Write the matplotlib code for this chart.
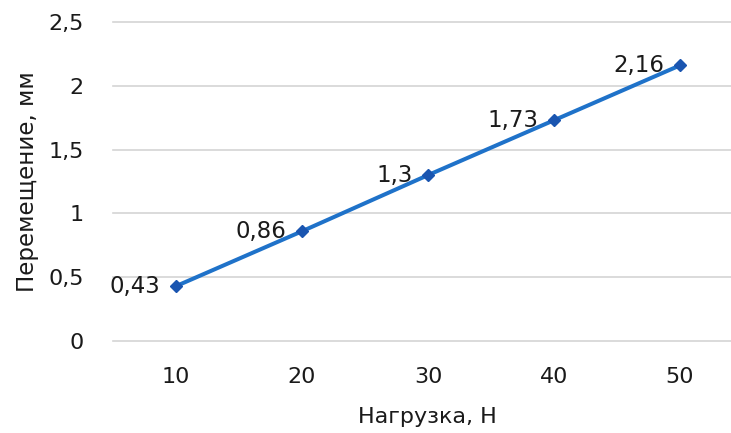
import matplotlib
matplotlib.use("Agg")
import matplotlib.pyplot as plt

categories = ["10", "20", "30", "40", "50"]
values = [0.43, 0.86, 1.3, 1.73, 2.16]
value_labels = ["0,43", "0,86", "1,3", "1,73", "2,16"]
yticks = [0, 0.5, 1, 1.5, 2, 2.5]
ytick_labels = ["0", "0,5", "1", "1,5", "2", "2,5"]

plt.rcParams['font.family'] = ['DejaVu Sans']
W, H = 731, 433
fig = plt.figure(figsize=(W / 100, H / 100), dpi=100)
left, right, bottom, top = 113, 731, 341, 22
ax = fig.add_axes([left / W, (H - bottom) / H, (right - left) / W, (bottom - top) / H])

x = list(range(len(categories)))
ax.plot(x, values, color="#1f72c9", lw=2.9, marker="D", ms=6.5,
        mfc="#1a55b0", mec="#1a55b0", zorder=3)
for xi, v, lab in zip(x, values, value_labels):
    ax.annotate(lab, (xi, v), xytext=(-11, 0), textcoords="offset points",
                ha="right", va="center", fontsize=16.5, color="#1a1a1a")

ax.set_xlim(-0.5, -0.5 + (right - left) / 126.0)
ax.set_ylim(0, 2.5)
ax.set_xticks(x)
ax.set_xticklabels(categories, fontsize=16, color="#1a1a1a")
ax.set_yticks(yticks)
ax.set_yticklabels(ytick_labels, fontsize=16, color="#1a1a1a")
ax.tick_params(length=0)
ax.tick_params(axis="y", pad=21)
ax.tick_params(axis="x", pad=19)
ax.grid(axis="y", color="#d4d4d4", lw=1.2)
for gl in ax.get_ygridlines():
    gl.set_clip_on(False)
for s in ax.spines.values():
    s.set_visible(False)

fig.text(427 / W, 1 - 417 / H, "Нагрузка, Н", ha="center", va="center",
         fontsize=16, color="#1a1a1a")
fig.text(28 / W, 1 - 182 / H, "Перемещение, мм", ha="center", va="center",
         rotation=90, fontsize=16.5, color="#1a1a1a")

fig.savefig("out.png", dpi=100)
